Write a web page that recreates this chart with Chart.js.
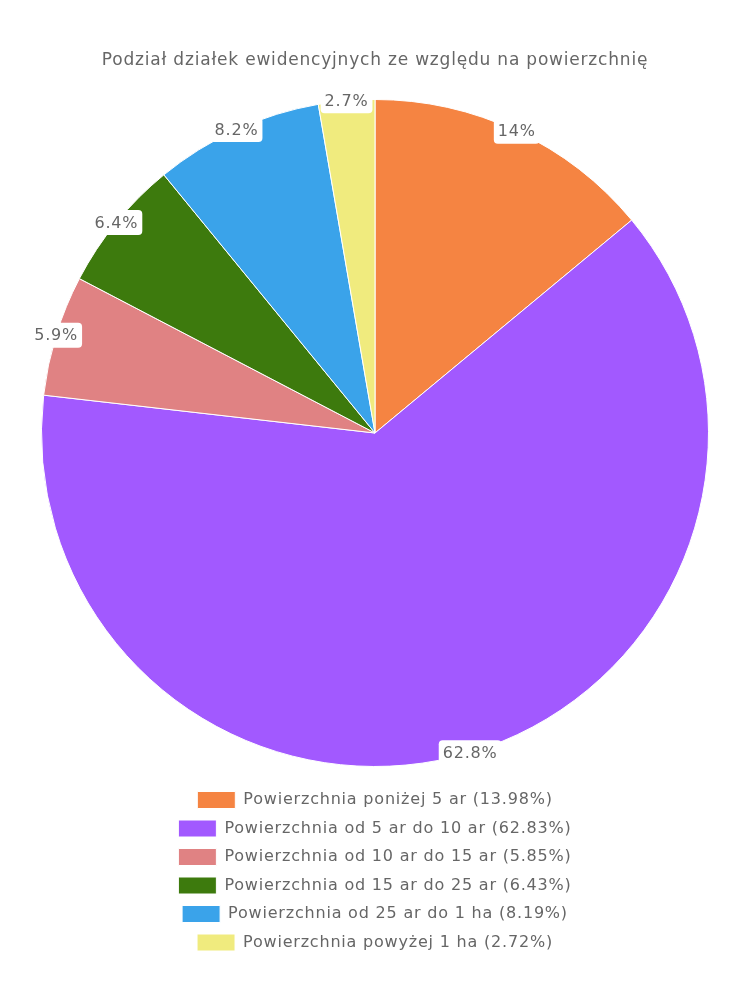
<!DOCTYPE html>
<html><head><meta charset="utf-8">
<script src="https://cdn.jsdelivr.net/npm/chart.js@4"></script>
<style>html,body{margin:0;padding:0;background:#fff}#wrap{width:750px;height:1000px}</style>
</head><body><div id="wrap"><canvas id="c"></canvas></div>
<script>
const categories = ["Powierzchnia poniżej 5 ar","Powierzchnia od 5 ar do 10 ar","Powierzchnia od 10 ar do 15 ar","Powierzchnia od 15 ar do 25 ar","Powierzchnia od 25 ar do 1 ha","Powierzchnia powyżej 1 ha"];
const values = [13.98, 62.83, 5.85, 6.43, 8.19, 2.72];
const colors = ["#F58442","#A259FF","#E08283","#3D7A0D","#3AA3EA","#F0EB7E"];
const titleText = "Podział działek ewidencyjnych ze względu na powierzchnię";
const FONT = "'DejaVu Sans', sans-serif";
const SPACING = '0.8px';

const spacingPlugin = {
  id: 'spacing',
  beforeLayout(chart) { chart.ctx.letterSpacing = SPACING; },
  beforeDraw(chart) { chart.ctx.letterSpacing = SPACING; }
};

const edgeLabels = {
  id: 'edgeLabels',
  afterDatasetsDraw(chart) {
    const ctx = chart.ctx;
    const meta = chart.getDatasetMeta(0);
    ctx.save();
    ctx.letterSpacing = SPACING;
    ctx.font = "16px " + FONT;
    ctx.textAlign = 'center';
    ctx.textBaseline = 'middle';
    meta.data.forEach((arc, i) => {
      const p = arc.getProps(['x','y','startAngle','endAngle','outerRadius'], true);
      const a = (p.startAngle + p.endAngle) / 2;
      const x = p.x + Math.cos(a) * p.outerRadius;
      const y = p.y + Math.sin(a) * p.outerRadius;
      const txt = (Math.round(values[i] * 10 + 1e-9) / 10) + '%';
      const w = ctx.measureText(txt).width + 8;
      const h = 25;
      ctx.fillStyle = '#fff';
      ctx.beginPath();
      ctx.roundRect(x - w/2, y - h/2, w, h, 4);
      ctx.fill();
      ctx.fillStyle = '#666';
      ctx.fillText(txt, x, y + 1);
    });
    ctx.restore();
  }
};

new Chart(document.getElementById('c'), {
  type: 'pie',
  data: {
    labels: categories.map((c, i) => c + ' (' + values[i].toFixed(2) + '%)'),
    datasets: [{ data: values, backgroundColor: colors, borderColor: '#fff', borderWidth: 1 }]
  },
  options: {
    responsive: true,
    maintainAspectRatio: false,
    animation: false,
    layout: { padding: { top: 0, bottom: 39, left: 41, right: 41 } },
    plugins: {
      title: { display: true, text: titleText, color: '#666', font: { family: FONT, size: 17, weight: 'normal' }, padding: { top: 50, bottom: 15.6 } },
      legend: { position: 'bottom', labels: { color: '#666', font: { family: FONT, size: 16 }, boxWidth: 38, boxHeight: 17, padding: 11.5 } },
      tooltip: { enabled: false }
    }
  },
  plugins: [spacingPlugin, edgeLabels]
});
</script></body></html>
